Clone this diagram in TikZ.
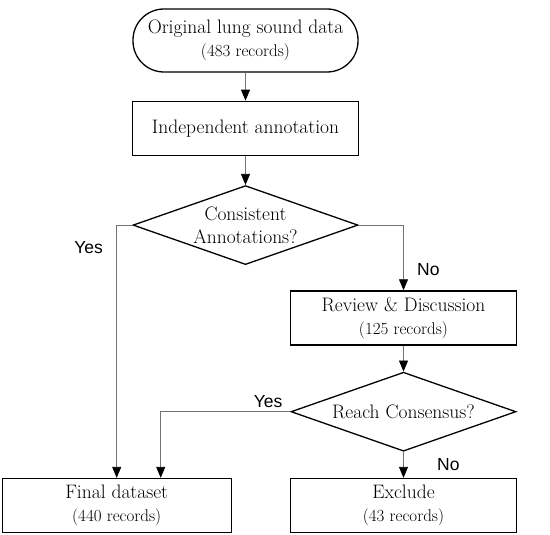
\documentclass[tikz,border=0pt]{standalone}
\usepackage{fontspec}
\newfontfamily\yesnofont{Liberation Sans}
\usepackage{tikz}
\usetikzlibrary{arrows.meta,positioning,shapes.geometric}

\newcommand{\recs}[1]{{\fontsize{17}{23}\selectfont #1}}

\begin{document}
\begin{tikzpicture}[
  x=1pt, y=-1pt,
  font=\fontsize{19.5}{23}\selectfont,
  terminal/.style={draw, rectangle, rounded corners=31pt, line width=1.3pt, align=center, minimum width=225pt, minimum height=63pt, inner sep=0pt},
  stepbox/.style={draw, line width=1.3pt, align=center, minimum width=226pt, minimum height=54pt, inner sep=0pt},
  decision/.style={draw, diamond, aspect=2.85, line width=1.3pt, align=center, minimum width=225pt, minimum height=79pt, inner sep=0pt},
  arrow/.style={draw=black!55, line width=0.8pt, -{Triangle[color=black, length=11pt, width=9pt]}},
  answer/.style={font=\yesnofont\fontsize{17.5}{20}\selectfont}
]
  \useasboundingbox (0,0) rectangle (550,535);

  \node[terminal] (orig) at (245.5,40.5) {Original lung sound data\\\recs{(483 records)}};
  \node[stepbox, below=28pt of orig] (annot) {Independent annotation};
  \node[decision, below=29pt of annot] (consist) {Consistent\\Annotations?};
  \node[stepbox, below=25pt of consist, xshift=158pt] (review) {Review \& Discussion\\\recs{(125 records)}};
  \node[decision, below=26pt of review] (consensus) {Reach Consensus?};
  \node[stepbox, below=26pt of consensus] (exclude) {Exclude\\\recs{(43 records)}};
  \node[stepbox, left=58pt of exclude, minimum width=229pt] (final) {Final dataset\\\recs{(440 records)}};

  \draw[arrow] (orig) -- (annot);
  \draw[arrow] (annot) -- (consist);
  \draw[arrow] (consist.west) -| node[answer, pos=0.544, left=10pt] {Yes} (final.north);
  \draw[arrow] (consist.east) -| node[answer, pos=0.84, right=10pt] {No} (review.north);
  \draw[arrow] (review) -- (consensus);
  \draw[arrow] (consensus.west) -| node[answer, pos=0.086, above] {Yes} ([xshift=44pt]final.north);
  \draw[arrow] (consensus) -- node[answer, right=30pt] {No} (exclude);
\end{tikzpicture}
\end{document}
